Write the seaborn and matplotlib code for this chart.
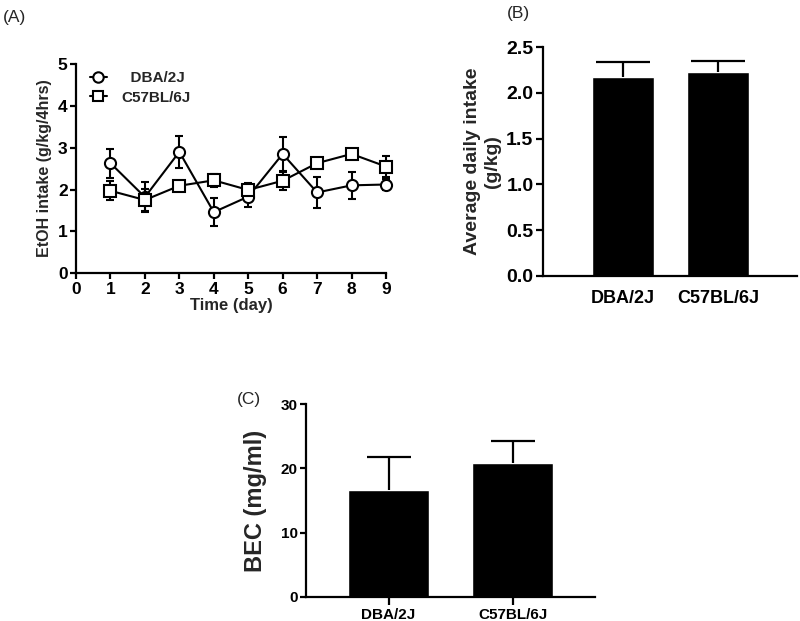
import numpy as np
import pandas as pd
import matplotlib
matplotlib.use("Agg")
import matplotlib.pyplot as plt
import seaborn as sns
from matplotlib.lines import Line2D

# ---- data ----
days = [1, 2, 3, 4, 5, 6, 7, 8, 9]
dba_intake = [2.63, 1.82, 2.90, 1.46, 1.83, 2.85, 1.93, 2.10, 2.12]
dba_sem = [0.35, 0.35, 0.38, 0.34, 0.25, 0.41, 0.37, 0.33, 0.14]
c57_intake = [1.97, 1.75, 2.09, 2.22, 1.99, 2.21, 2.63, 2.85, 2.55]
c57_sem = [0.23, 0.27, 0.08, 0.16, 0.16, 0.22, 0.10, 0.07, 0.24]

strains = ["DBA/2J", "C57BL/6J"]
avg_daily = [2.17, 2.23]
avg_daily_sem = [0.17, 0.12]
bec = [16.7, 20.8]
bec_sem = [5.1, 3.4]

sns.set_style("ticks")
plt.rcParams["font.family"] = ["Liberation Sans", "DejaVu Sans"]
plt.rcParams["font.weight"] = "bold"
plt.rcParams["axes.labelweight"] = "bold"
plt.rcParams["axes.linewidth"] = 1.6
plt.rcParams["xtick.major.width"] = 1.6
plt.rcParams["ytick.major.width"] = 1.6
plt.rcParams["xtick.color"] = "black"
plt.rcParams["ytick.color"] = "black"
plt.rcParams["axes.edgecolor"] = "black"

fig = plt.figure(figsize=(8, 6.21), dpi=100)


def upper_errorbar(ax, x, y, err, capsize):
    eb = ax.errorbar(x, y, yerr=[[0] * len(err), err], fmt="none", ecolor="black",
                     elinewidth=1.6, capsize=capsize, capthick=1.6, zorder=1)
    # hide the lower caps (GraphPad-style upper-only bars)
    eb[1][0].set_visible(False)
    return eb


# ---- Panel A ----
axA = fig.add_axes([0.095, 0.560, 0.3875, 0.337])
dfA = pd.DataFrame({
    "day": days * 2,
    "intake": dba_intake + c57_intake,
    "strain": ["DBA/2J"] * 9 + ["C57BL/6J"] * 9,
})
for vals, errs in ((dba_intake, dba_sem), (c57_intake, c57_sem)):
    eb = axA.errorbar(days, vals, yerr=errs, fmt="none", ecolor="black",
                      elinewidth=1.5, capsize=2.8, capthick=1.5, zorder=2)
    for art in list(eb[1]) + list(eb[2]):
        art.set_clip_on(False)
sns.lineplot(data=dfA, x="day", y="intake", hue="strain", style="strain",
             markers={"DBA/2J": "o", "C57BL/6J": "s"}, dashes=False,
             palette={"DBA/2J": "black", "C57BL/6J": "black"},
             markerfacecolor="white", markeredgecolor="black", markeredgewidth=1.5,
             markersize=8, linewidth=1.5, ax=axA, zorder=3, legend=False,
             clip_on=False)
axA.set_xlim(0, 9)
axA.set_ylim(0, 5)
axA.set_xticks(range(0, 10))
axA.set_yticks(range(0, 6))
axA.tick_params(labelsize=12.5, length=4, width=1.6, pad=2)
axA.set_xlabel("Time (day)", fontsize=12, labelpad=1)
axA.set_ylabel("EtOH intake (g/kg/4hrs)", fontsize=11.5, labelpad=4)
for lbl in axA.get_xticklabels() + axA.get_yticklabels():
    lbl.set_fontweight("bold")
handles = [
    Line2D([], [], color="black", lw=1.5, marker="o", markersize=7.5,
           markerfacecolor="white", markeredgewidth=1.5),
    Line2D([], [], color="black", lw=1.5, marker="s", markersize=7.5,
           markerfacecolor="white", markeredgewidth=1.5),
]
axA.legend(handles, ["  DBA/2J", "C57BL/6J"], loc="upper left", frameon=False,
           bbox_to_anchor=(0.0, 1.03), handlelength=1.1, handletextpad=1.0,
           labelspacing=0.35, prop={"weight": "bold", "size": 11})
sns.despine(ax=axA)
fig.text(0.004, 0.972, "(A)", fontsize=12.5, fontweight="normal", va="center")

# ---- Panel B ----
axB = fig.add_axes([0.679, 0.556, 0.317, 0.368])
dfB = pd.DataFrame({"strain": strains, "value": avg_daily})
sns.barplot(data=dfB, x="strain", y="value", color="black", width=0.65,
            errorbar=None, ax=axB, saturation=1)
upper_errorbar(axB, range(len(strains)), avg_daily, avg_daily_sem, 19.5)
axB.set_xlim(-0.842, 1.83)
axB.set_ylim(0, 2.5)
axB.set_yticks([0, 0.5, 1.0, 1.5, 2.0, 2.5])
axB.set_yticklabels(["0.0", "0.5", "1.0", "1.5", "2.0", "2.5"])
axB.tick_params(axis="y", labelsize=14, length=5, pad=2)
axB.tick_params(axis="x", labelsize=13, length=0, pad=10)
axB.set_xlabel("")
axB.set_ylabel("Average daily intake\n(g/kg)", fontsize=14, labelpad=4)
for lbl in axB.get_xticklabels() + axB.get_yticklabels():
    lbl.set_fontweight("bold")
sns.despine(ax=axB)
fig.text(0.634, 0.978, "(B)", fontsize=12.5, fontweight="normal", va="center")

# ---- Panel C ----
axC = fig.add_axes([0.3825, 0.039, 0.3615, 0.310])
dfC = pd.DataFrame({"strain": strains, "value": bec})
sns.barplot(data=dfC, x="strain", y="value", color="black", width=0.65,
            errorbar=None, ax=axC, saturation=1)
upper_errorbar(axC, range(len(strains)), bec, bec_sem, 15.5)
axC.set_xlim(-0.665, 1.665)
axC.set_ylim(0, 30)
axC.set_yticks([0, 10, 20, 30])
axC.tick_params(axis="y", labelsize=11, length=4, pad=2)
axC.tick_params(axis="x", labelsize=11, length=6, pad=2)
axC.set_xlabel("")
axC.set_ylabel("BEC (mg/ml)", fontsize=17, labelpad=10)
for lbl in axC.get_xticklabels() + axC.get_yticklabels():
    lbl.set_fontweight("bold")
sns.despine(ax=axC)
fig.text(0.296, 0.356, "(C)", fontsize=12.5, fontweight="normal", va="center")

fig.savefig("out.png", dpi=100)
